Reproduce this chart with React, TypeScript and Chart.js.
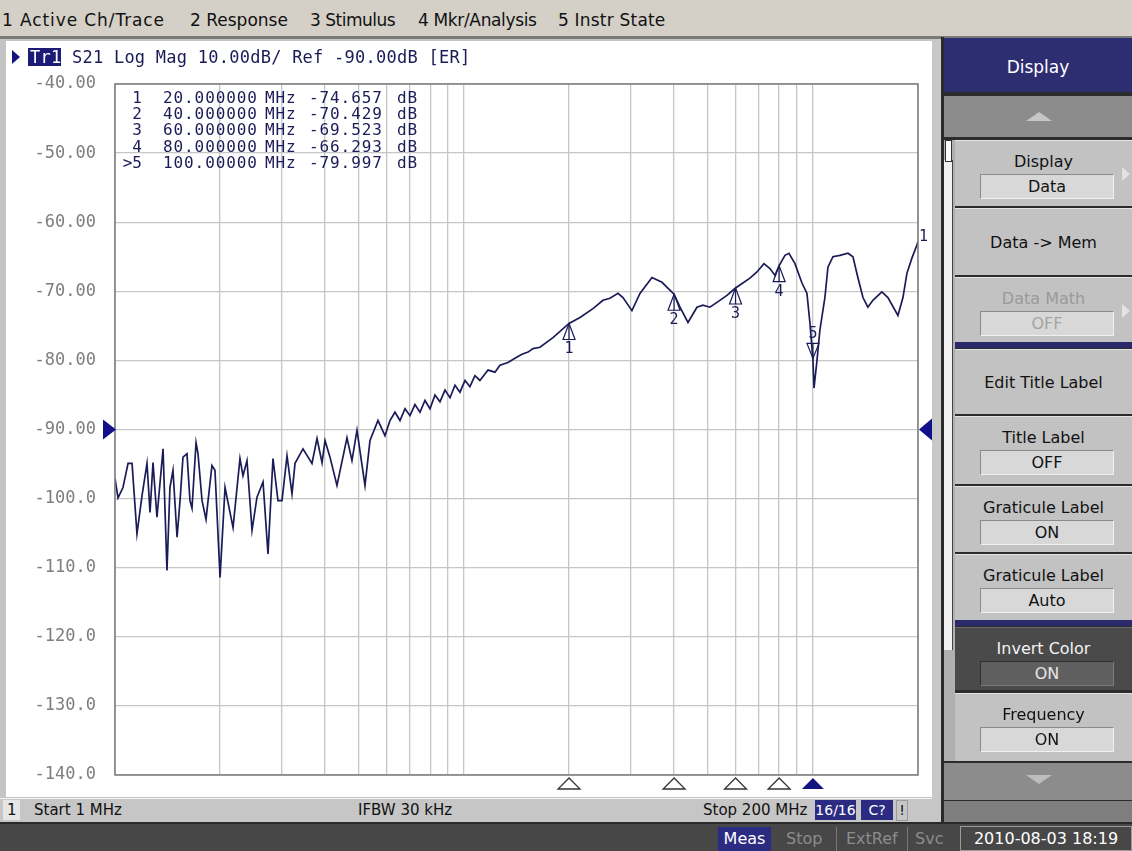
import React, { useEffect, useRef } from "react";
import { Chart, registerables } from "chart.js";
Chart.register(...registerables);

// ---- data ----
const freqMHz = [
  1.0, 1.02, 1.054, 1.09, 1.119, 1.156, 1.195, 1.235, 1.26, 1.285, 1.319, 1.373, 1.409, 1.437, 1.466,
  1.506, 1.536, 1.566, 1.608, 1.64, 1.662, 1.707, 1.729, 1.776, 1.823, 1.896, 1.934, 2.0, 2.067, 2.179,
  2.281, 2.327, 2.389, 2.47, 2.552, 2.656, 2.744, 2.836, 2.931, 3.01, 3.111, 3.215, 3.28, 3.457, 3.668,
  3.792, 3.92, 3.998, 4.131, 4.326, 4.621, 4.776, 4.936, 5.204, 5.379, 5.67, 5.937, 6.137, 6.343, 6.556,
  6.776, 7.003, 7.237, 7.48, 7.732, 7.991, 8.259, 8.536, 8.823, 9.119, 9.424, 9.739, 10.07, 10.4, 10.75,
  11.11, 11.72, 12.27, 12.68, 13.37, 14.0, 14.66, 15.26, 15.77, 16.51, 17.99, 20.0, 21.5, 23.42, 25.02,
  26.2, 27.63, 28.55, 30.29, 31.94, 34.57, 36.93, 40.0, 41.59, 43.84, 46.52, 48.39, 50.68, 53.08, 56.7,
  60.0, 61.78, 65.99, 69.11, 72.37, 75.3, 77.83, 80.0, 83.15, 85.36, 88.81, 93.01, 96.12, 98.04, 100.0,
  100.7, 102.7, 104.7, 108.2, 110.4, 114.1, 119.5, 126.0, 130.2, 134.5, 139.1, 143.7, 148.5, 157.6, 164.0,
  175.2, 181.1, 185.9, 192.1, 198.6, 200.0,
];
const s21dB = [
  -97.1, -99.9, -98.4, -94.9, -94.9, -105.1, -99.6, -94.9, -102.0, -94.8, -102.7, -92.8, -110.4, -98.4, -95.9,
  -105.6, -100.3, -94.0, -93.5, -100.3, -101.4, -91.9, -93.5, -100.3, -103.0, -95.2, -95.9, -111.4, -98.4, -104.2,
  -94.2, -96.7, -94.5, -104.6, -99.8, -97.6, -108.0, -94.2, -100.3, -100.3, -93.8, -99.3, -94.9, -92.8, -94.9,
  -91.3, -94.8, -91.6, -94.0, -98.1, -91.2, -94.5, -90.1, -98.1, -91.6, -88.7, -90.9, -88.7, -87.5, -88.7,
  -87.0, -88.0, -86.4, -87.5, -85.8, -87.0, -85.0, -86.0, -84.3, -85.4, -83.6, -84.6, -82.9, -83.8, -82.2,
  -82.9, -81.4, -81.7, -80.7, -80.3, -79.7, -79.1, -78.8, -78.3, -78.1, -76.7, -74.657, -73.8, -72.5, -71.3,
  -71.0, -70.3, -70.9, -72.8, -70.3, -68.0, -68.7, -70.429, -72.3, -74.5, -72.3, -72.0, -72.3, -71.6, -70.6,
  -69.523, -69.1, -68.1, -67.2, -66.0, -66.7, -67.7, -66.293, -64.8, -64.5, -66.0, -68.8, -70.3, -74.6, -79.997,
  -84.0, -80.0, -75.6, -70.9, -66.5, -65.0, -64.8, -64.5, -65.0, -68.0, -70.9, -72.3, -71.3, -70.1, -70.9,
  -73.5, -70.9, -67.4, -65.2, -63.3, -62.8,
];
const gridFreqs = [1, 2, 3, 4, 5, 6, 7, 8, 9, 10, 20, 30, 40, 50, 60, 70, 80, 90, 100, 200];
const markerNums = [1, 2, 3, 4, 5];
const markerFreqs = [20, 40, 60, 80, 100];
const markerDb = [-74.657, -70.429, -69.523, -66.293, -79.997];
const activeMarker = 5;
const refLevel = -90;
const menuItems = ["1 Active Ch/Trace", "2 Response", "3 Stimulus", "4 Mkr/Analysis", "5 Instr State"];

const NAVY = "#1b1b58";
const MONO = '"DejaVu Sans Mono", monospace';

const overlayPlugin = {
  id: "vnaOverlay",
  afterDatasetsDraw(chart: any) {
    const { ctx, chartArea: a, scales } = chart;
    const x = scales.x, y = scales.y;
    ctx.save();
    ctx.strokeStyle = "#7c7c7c";
    ctx.lineWidth = 1.5;
    ctx.strokeRect(a.left, a.top, a.right - a.left, a.bottom - a.top);

    // reference level triangles
    const ry = y.getPixelForValue(refLevel);
    ctx.fillStyle = "#10108a";
    ctx.beginPath();
    ctx.moveTo(a.left + 1, ry);
    ctx.lineTo(a.left - 12, ry - 10);
    ctx.lineTo(a.left - 12, ry + 10);
    ctx.closePath();
    ctx.fill();
    ctx.beginPath();
    ctx.moveTo(a.right + 1, ry);
    ctx.lineTo(a.right + 14, ry - 11);
    ctx.lineTo(a.right + 14, ry + 11);
    ctx.closePath();
    ctx.fill();

    // markers on trace + bottom indicators
    ctx.font = `15px ${MONO}`;
    ctx.textAlign = "center";
    ctx.textBaseline = "middle";
    markerNums.forEach((n, i) => {
      const px = x.getPixelForValue(markerFreqs[i]);
      const py = y.getPixelForValue(markerDb[i]);
      ctx.strokeStyle = NAVY;
      ctx.fillStyle = NAVY;
      ctx.lineWidth = 1.2;
      if (n === activeMarker) {
        ctx.beginPath();
        ctx.moveTo(px, py - 2);
        ctx.lineTo(px - 6, py - 17);
        ctx.lineTo(px + 6, py - 17);
        ctx.closePath();
        ctx.stroke();
        ctx.beginPath();
        ctx.moveTo(px, py - 2);
        ctx.lineTo(px, py - 17);
        ctx.stroke();
        ctx.fillText(String(n), px, py - 26);
      } else {
        ctx.beginPath();
        ctx.moveTo(px, py);
        ctx.lineTo(px - 6, py + 16);
        ctx.lineTo(px + 6, py + 16);
        ctx.closePath();
        ctx.stroke();
        ctx.beginPath();
        ctx.moveTo(px, py);
        ctx.lineTo(px, py + 16);
        ctx.stroke();
        ctx.fillText(String(n), px, py + 26);
      }
      // bottom indicator
      const by = a.bottom + 3;
      ctx.beginPath();
      ctx.moveTo(px, by);
      ctx.lineTo(px - 11, by + 11);
      ctx.lineTo(px + 11, by + 11);
      ctx.closePath();
      if (n === activeMarker) {
        ctx.fillStyle = "#14147e";
        ctx.fill();
      } else {
        ctx.strokeStyle = "#333333";
        ctx.lineWidth = 1.3;
        ctx.stroke();
      }
    });

    // trace number at end
    const li = freqMHz.length - 1;
    const ex = x.getPixelForValue(freqMHz[li]);
    const ey = y.getPixelForValue(s21dB[li]);
    ctx.fillStyle = NAVY;
    ctx.textAlign = "left";
    ctx.fillText("1", ex + 1, ey - 4);
    ctx.restore();
  },
};

function Txt(props: { x: number; y: number; children: any; style?: any }) {
  return (
    <div style={{ position: "absolute", left: props.x, top: props.y, whiteSpace: "nowrap", lineHeight: "20px", ...props.style }}>
      {props.children}
    </div>
  );
}

type Key = { top: number; h: number; label: string; value?: string; dim?: boolean; dark?: boolean; arrow?: boolean };
const softKeys: Key[] = [
  { top: 140, h: 66, label: "Display", value: "Data", arrow: true },
  { top: 208, h: 67, label: "Data -> Mem" },
  { top: 277, h: 65, label: "Data Math", value: "OFF", dim: true, arrow: true },
  { top: 349, h: 65, label: "Edit Title Label" },
  { top: 416, h: 68, label: "Title Label", value: "OFF" },
  { top: 486, h: 66, label: "Graticule Label", value: "ON" },
  { top: 554, h: 66, label: "Graticule Label", value: "Auto" },
  { top: 627, h: 63, label: "Invert Color", value: "ON", dark: true },
  { top: 693, h: 68, label: "Frequency", value: "ON" },
];

function SoftKey({ k }: { k: Key }) {
  const bg = k.dark ? "#4a4a4a" : "#c2c2c2";
  const fg = k.dark ? "#f2f2f2" : k.dim ? "#9a9a9a" : "#121212";
  return (
    <div
      style={{
        position: "absolute", left: 955, top: k.top, width: 177, height: k.h, background: bg,
        borderTop: k.dark ? "1px solid #6a6a6a" : "1px solid #e4e4e4", boxSizing: "border-box",
        fontSize: 16, color: fg, textAlign: "center",
      }}
    >
      {k.value ? (
        <>
          <div style={{ position: "absolute", left: 0, right: 0, top: 11, lineHeight: "20px" }}>{k.label}</div>
          <div
            style={{
              position: "absolute", left: 25, top: 33, width: 134, height: 25, boxSizing: "border-box",
              background: k.dark ? "#5f5f5f" : "#d8d8d8",
              borderTop: k.dark ? "1px solid #2e2e2e" : "1px solid #8a8a8a",
              borderLeft: k.dark ? "1px solid #2e2e2e" : "1px solid #8a8a8a",
              borderBottom: k.dark ? "1px solid #7a7a7a" : "1px solid #f0f0f0",
              borderRight: k.dark ? "1px solid #7a7a7a" : "1px solid #f0f0f0",
              lineHeight: "23px", color: k.dark ? "#e6e6e6" : k.dim ? "#a4a4a4" : "#121212",
            }}
          >
            {k.value}
          </div>
        </>
      ) : (
        <div style={{ position: "absolute", left: 0, right: 0, top: k.h / 2 - 10, lineHeight: "20px" }}>{k.label}</div>
      )}
      {k.arrow && (
        <div
          style={{
            position: "absolute", left: 167, top: 26, width: 0, height: 0,
            borderTop: "7px solid transparent", borderBottom: "7px solid transparent", borderLeft: "8px solid #e2e2e2",
          }}
        />
      )}
    </div>
  );
}

export default function App() {
  const ref = useRef<HTMLCanvasElement>(null);
  useEffect(() => {
    const chart = new Chart(ref.current as HTMLCanvasElement, {
      type: "line",
      data: {
        datasets: [
          {
            data: freqMHz.map((f, i) => ({ x: f, y: s21dB[i] })),
            borderColor: NAVY,
            borderWidth: 1.7,
            pointRadius: 0,
            tension: 0,
            fill: false,
          },
        ],
      },
      options: {
        animation: false,
        responsive: false,
        devicePixelRatio: 1,
        layout: { padding: { left: 0, right: 20, top: 44, bottom: 23 } },
        plugins: { legend: { display: false }, tooltip: { enabled: false } },
        scales: {
          x: {
            type: "logarithmic",
            min: 1,
            max: 200,
            afterBuildTicks: (s: any) => {
              s.ticks = gridFreqs.map((v) => ({ value: v }));
            },
            afterFit: (s: any) => {
              s.height = 0;
            },
            ticks: { display: false },
            grid: { color: "#c6c6c6", lineWidth: 1.3, drawTicks: false },
            border: { display: false },
          },
          y: {
            type: "linear",
            min: -140,
            max: -40,
            afterFit: (s: any) => {
              s.width = 110;
            },
            ticks: {
              stepSize: 10,
              padding: 0,
              color: "#7e7e7e",
              font: { family: "DejaVu Sans Mono", size: 17 },
              callback: (v: any) => (Math.abs(v) >= 100 ? Number(v).toFixed(1) : Number(v).toFixed(2)),
            },
            grid: { color: "#c6c6c6", lineWidth: 1.3, drawTicks: true, tickLength: 19, tickColor: "rgba(0,0,0,0)" },
            border: { display: false },
          },
        },
      },
      plugins: [overlayPlugin],
    } as any);
    return () => chart.destroy();
  }, []);

  const menuX = [2, 190, 310, 418, 558];
  const menuSpacing = [0.9, 0, -0.5, -0.35, 0.2];
  const rowY = [98, 114, 130, 146.5, 162.5];

  return (
    <div
      style={{
        position: "fixed", left: 0, top: 0, width: 1132, height: 851, overflow: "hidden",
        background: "#d4d0c8", fontFamily: '"DejaVu Sans", sans-serif', color: "#111",
      }}
    >
      {/* menu bar */}
      {menuItems.map((m, i) => (
        <Txt key={m} x={menuX[i]} y={10} style={{ fontSize: 17, letterSpacing: menuSpacing[i] }}>
          {m}
        </Txt>
      ))}
      <div style={{ position: "absolute", left: 0, top: 36, width: 1132, height: 3, background: "#7a7a7a" }} />

      {/* channel window */}
      <div style={{ position: "absolute", left: 0, top: 39, width: 942, height: 760, background: "#c4c4c4" }} />
      <div style={{ position: "absolute", left: 6, top: 41, width: 926, height: 756, background: "#ffffff" }} />
      <canvas ref={ref} width={933} height={758} style={{ position: "absolute", left: 5, top: 40, width: 933, height: 758 }} />

      {/* header */}
      <div
        style={{
          position: "absolute", left: 12, top: 50, width: 0, height: 0,
          borderTop: "7px solid transparent", borderBottom: "7px solid transparent", borderLeft: "8px solid #14147e",
        }}
      />
      <div style={{ position: "absolute", left: 28, top: 48, height: 18, width: 33, background: "#1c1c78" }} />
      <Txt x={30} y={47} style={{ fontFamily: MONO, fontSize: 17, color: NAVY, letterSpacing: 0.25 }}>
        <span style={{ color: "#ffffff" }}>Tr1</span> S21 Log Mag 10.00dB/ Ref -90.00dB [ER]
      </Txt>

      {/* marker table */}
      {markerNums.map((n, i) => (
        <React.Fragment key={n}>
          <Txt x={120} y={rowY[i] - 10} style={{ fontFamily: MONO, fontSize: 16, color: NAVY, width: 22, textAlign: "right" }}>
            {n === activeMarker ? ">" + n : String(n)}
          </Txt>
          <Txt x={163} y={rowY[i] - 10} style={{ fontFamily: MONO, fontSize: 16, color: NAVY, letterSpacing: 0.9 }}>
            {markerFreqs[i] >= 100 ? markerFreqs[i].toFixed(5) : markerFreqs[i].toFixed(6)}
          </Txt>
          <Txt x={265} y={rowY[i] - 10} style={{ fontFamily: MONO, fontSize: 16, color: NAVY, letterSpacing: 0.9 }}>
            MHz
          </Txt>
          <Txt x={309} y={rowY[i] - 10} style={{ fontFamily: MONO, fontSize: 16, color: NAVY, letterSpacing: 0.9 }}>
            {markerDb[i].toFixed(3)}
          </Txt>
          <Txt x={397} y={rowY[i] - 10} style={{ fontFamily: MONO, fontSize: 16, color: NAVY, letterSpacing: 0.9 }}>
            dB
          </Txt>
        </React.Fragment>
      ))}

      {/* status bar */}
      <div style={{ position: "absolute", left: 0, top: 798, width: 942, height: 24, background: "#c6c6c6", borderTop: "1px solid #f4f4f4", boxSizing: "border-box" }} />
      <div style={{ position: "absolute", left: 3, top: 800, width: 17, height: 20, background: "#e6e6e6" }} />
      <Txt x={7} y={800} style={{ fontSize: 15 }}>1</Txt>
      <Txt x={34} y={800} style={{ fontSize: 15 }}>Start 1 MHz</Txt>
      <Txt x={358} y={800} style={{ fontSize: 15 }}>IFBW 30 kHz</Txt>
      <Txt x={703} y={800} style={{ fontSize: 15 }}>Stop 200 MHz</Txt>
      <div style={{ position: "absolute", left: 815, top: 800, width: 41, height: 20, background: "#2b2b82", color: "#fff", fontSize: 14, textAlign: "center", lineHeight: "20px" }}>16/16</div>
      <div style={{ position: "absolute", left: 861, top: 800, width: 32, height: 20, background: "#2b2b82", color: "#fff", fontSize: 14, textAlign: "center", lineHeight: "20px" }}>C?</div>
      <div style={{ position: "absolute", left: 896, top: 800, width: 10, height: 19, border: "1px solid #9a9a9a", fontSize: 14, textAlign: "center", lineHeight: "19px" }}>!</div>

      {/* bottom bar */}
      <div style={{ position: "absolute", left: 0, top: 822, width: 1132, height: 29, background: "#474747", borderTop: "2px solid #2a2a2a", boxSizing: "border-box" }} />
      <div style={{ position: "absolute", left: 718, top: 827, width: 53, height: 24, background: "#2b2b82", color: "#fff", fontSize: 16, textAlign: "center", lineHeight: "24px" }}>Meas</div>
      <Txt x={786} y={829} style={{ fontSize: 16, color: "#8c8c8c" }}>Stop</Txt>
      <div style={{ position: "absolute", left: 836, top: 827, width: 1, height: 24, background: "#777" }} />
      <Txt x={846} y={829} style={{ fontSize: 16, color: "#8c8c8c" }}>ExtRef</Txt>
      <div style={{ position: "absolute", left: 907, top: 827, width: 1, height: 24, background: "#777" }} />
      <Txt x={915} y={829} style={{ fontSize: 16, color: "#8c8c8c" }}>Svc</Txt>
      <div style={{ position: "absolute", left: 960, top: 826, width: 172, height: 25, border: "1px solid #9a9a9a", boxSizing: "border-box", color: "#fff", fontSize: 16, textAlign: "center", lineHeight: "23px" }}>
        2010-08-03 18:19
      </div>

      {/* right panel */}
      <div style={{ position: "absolute", left: 932, top: 39, width: 10, height: 760, background: "#c8c8c8" }} />
      <div style={{ position: "absolute", left: 941, top: 37, width: 3, height: 785, background: "#2a2a2a" }} />
      <div style={{ position: "absolute", left: 944, top: 38, width: 188, height: 784, background: "#2c2c2c" }} />
      <div style={{ position: "absolute", left: 944, top: 38, width: 188, height: 54, background: "#2d2d72", color: "#fff", fontSize: 17, textAlign: "center", lineHeight: "58px" }}>
        Display
      </div>
      <div style={{ position: "absolute", left: 944, top: 96, width: 188, height: 41, background: "#8c8c8c" }}>
        <div style={{ position: "absolute", left: 82, top: 16, width: 0, height: 0, borderLeft: "13px solid transparent", borderRight: "13px solid transparent", borderBottom: "9px solid #c6c6c6" }} />
      </div>
      <div style={{ position: "absolute", left: 944, top: 140, width: 11, height: 621, background: "#b0b0b0" }} />
      <div style={{ position: "absolute", left: 944, top: 160, width: 8, height: 490, background: "#f2f2f2", borderRight: "1px solid #444" }} />
      <div style={{ position: "absolute", left: 945, top: 140, width: 7, height: 22, background: "#fafafa", border: "1px solid #333", boxSizing: "border-box" }} />
      <div style={{ position: "absolute", left: 955, top: 342, width: 177, height: 6, background: "#2a2a6a" }} />
      <div style={{ position: "absolute", left: 955, top: 620, width: 177, height: 6, background: "#2a2a6a" }} />
      {softKeys.map((k, i) => (
        <SoftKey key={i} k={k} />
      ))}
      <div style={{ position: "absolute", left: 944, top: 763, width: 188, height: 37, background: "#8c8c8c" }}>
        <div style={{ position: "absolute", left: 82, top: 12, width: 0, height: 0, borderLeft: "13px solid transparent", borderRight: "13px solid transparent", borderTop: "9px solid #bdbdbd" }} />
      </div>
      <div style={{ position: "absolute", left: 944, top: 801, width: 188, height: 21, background: "#7e7e7e" }} />
    </div>
  );
}
